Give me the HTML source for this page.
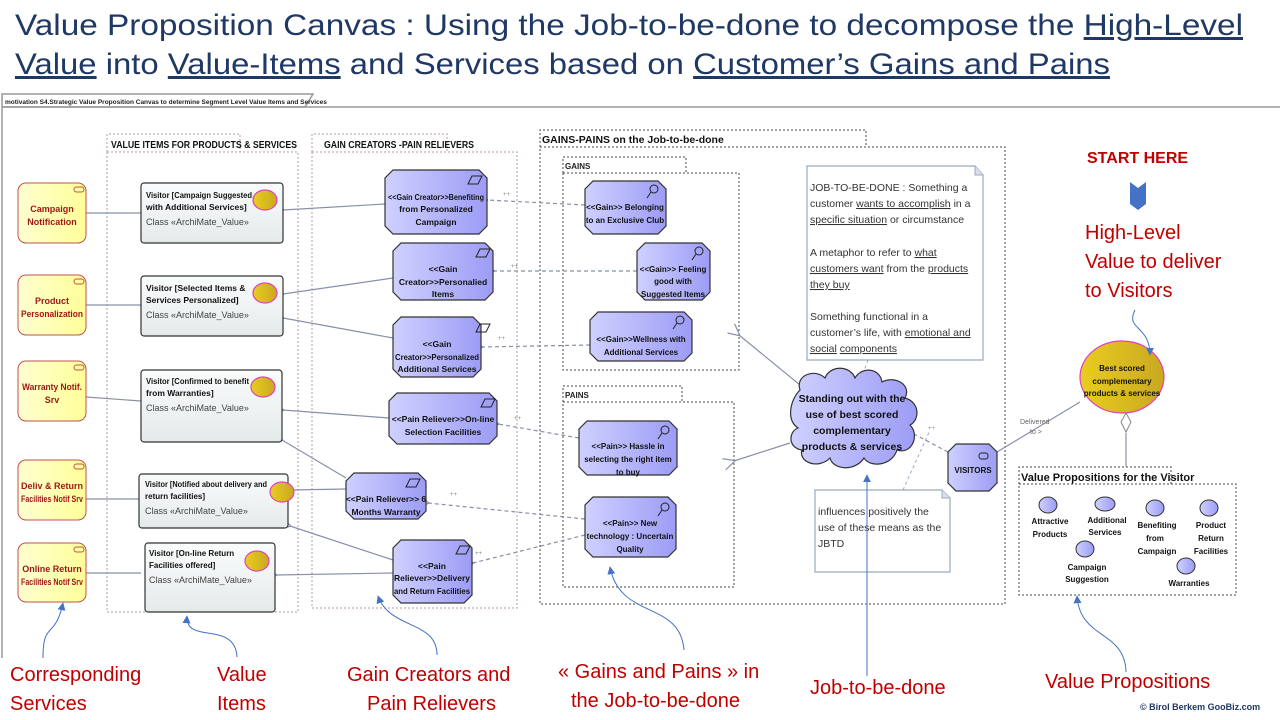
<!DOCTYPE html>
<html><head><meta charset="utf-8"><style>
html,body{margin:0;padding:0;background:#fff;}
svg{display:block;font-family:"Liberation Sans",sans-serif;}
.t{fill:#1f3864;font-size:30px;}
.red{fill:#c00000;font-size:20px;}
.sv{fill:#a01818;font-size:9px;font-weight:bold;}
.vi{fill:#111;font-size:8.5px;font-weight:bold;}
.cl{fill:#444;font-size:9px;}
.pk{fill:#111;font-size:8.5px;font-weight:bold;}
.hd{fill:#111;font-size:10.5px;font-weight:bold;}
.nt{fill:#333;font-size:10.5px;}
</style></head><body>
<svg width="1280" height="720" viewBox="0 0 1280 720" xmlns="http://www.w3.org/2000/svg">
<defs>
<linearGradient id="pg" x1="0" x2="1"><stop offset="0" stop-color="#cfd0ff"/><stop offset="1" stop-color="#9c9cf5"/></linearGradient>
<linearGradient id="yg" x1="0" x2="1"><stop offset="0" stop-color="#ffffd0"/><stop offset="1" stop-color="#ffff99"/></linearGradient>
<linearGradient id="gg" x1="0" x2="0" y1="0" y2="1"><stop offset="0" stop-color="#fafcfc"/><stop offset="1" stop-color="#e4eaea"/></linearGradient>
<linearGradient id="og" x1="0" x2="1"><stop offset="0" stop-color="#e8cd20"/><stop offset="1" stop-color="#c9a820"/></linearGradient>
<marker id="oa" viewBox="0 0 10 10" refX="1" refY="5" markerWidth="10" markerHeight="10" orient="auto-start-reverse"><path d="M10,0 L0,5 L10,10" fill="none" stroke="#8890a8" stroke-width="1"/></marker>
<marker id="ba" viewBox="0 0 10 10" refX="9" refY="5" markerWidth="8" markerHeight="8" orient="auto"><path d="M0,0 L10,5 L0,10 z" fill="#4472c4"/></marker>
</defs>

<text class="t" x="15" y="35" textLength="1228" lengthAdjust="spacingAndGlyphs">Value Proposition Canvas : Using the Job-to-be-done to decompose the <tspan text-decoration="underline">High-Level</tspan></text>
<text class="t" x="15" y="74" textLength="1095" lengthAdjust="spacingAndGlyphs"><tspan text-decoration="underline">Value</tspan> into <tspan text-decoration="underline">Value-Items</tspan> and Services based on <tspan text-decoration="underline">Customer’s Gains and Pains</tspan></text>

<path d="M2,658 L2,94 L313,94 L305,107 L2,107" fill="none" stroke="#999" stroke-width="1.5"/>
<line x1="2" y1="107" x2="1280" y2="107" stroke="#999" stroke-width="1.5"/>
<text x="5" y="104" font-size="6.5" fill="#222" font-weight="bold">motivation S4.Strategic Value Proposition Canvas to determine Segment Level Value Items and Services</text>

<g fill="none" stroke="#b89aa0" stroke-dasharray="2,2">
<path d="M107,152 L107,134 L240,134 L240,152"/><rect x="107" y="152" width="191" height="460"/>
<path d="M312,152 L312,134 L447,134 L447,152"/><rect x="312" y="152" width="205" height="456"/>
</g>
<text class="hd" x="111" y="148" textLength="186" lengthAdjust="spacingAndGlyphs">VALUE ITEMS FOR PRODUCTS &amp; SERVICES</text>
<text class="hd" x="324" y="148" textLength="150" lengthAdjust="spacingAndGlyphs">GAIN CREATORS -PAIN RELIEVERS</text>
<g fill="none" stroke="#444" stroke-dasharray="2,2">
<path d="M540,147 L540,130 L866,130 L866,147"/><rect x="540" y="147" width="465" height="457"/>
<path d="M563,173 L563,157 L686,157 L686,173"/><rect x="563" y="173" width="176" height="197"/>
<path d="M563,402 L563,386 L682,386 L682,402"/><rect x="563" y="402" width="171" height="185"/>
<path d="M1019,484 L1019,467 L1171,467 L1171,484"/><rect x="1019" y="484" width="217" height="111"/>
</g>
<text class="hd" x="542" y="143" font-size="10">GAINS-PAINS on the Job-to-be-done</text>
<text x="565" y="169" font-size="8" font-weight="bold" fill="#222">GAINS</text>
<text x="565" y="398" font-size="8" font-weight="bold" fill="#222">PAINS</text>
<text x="1021" y="481" font-size="11" font-weight="bold" fill="#111">Value Propositions for the Visitor</text>

<g stroke="#8890a8" stroke-width="1.2" fill="none">
<line x1="86" y1="213" x2="141" y2="213"/><line x1="86" y1="305" x2="141" y2="305"/><line x1="86" y1="397" x2="141" y2="401"/>
<line x1="86" y1="499" x2="139" y2="499"/><line x1="86" y1="573" x2="141" y2="573"/>
<line x1="385" y1="204" x2="283" y2="210" marker-end="url(#oa)"/>
<line x1="393" y1="278" x2="283" y2="294" marker-end="url(#oa)"/>
<line x1="393" y1="338" x2="283" y2="318" marker-end="url(#oa)"/>
<line x1="389" y1="418" x2="283" y2="410" marker-end="url(#oa)"/>
<line x1="346" y1="478" x2="282" y2="440" marker-end="url(#oa)"/>
<line x1="346" y1="489" x2="290" y2="490" marker-end="url(#oa)"/>
<line x1="393" y1="560" x2="290" y2="526" marker-end="url(#oa)"/>
<line x1="393" y1="573" x2="276" y2="575" marker-end="url(#oa)"/>
<line x1="800" y1="385" x2="739" y2="335" marker-end="url(#oa)"/>
<line x1="790" y1="443" x2="734" y2="461" marker-end="url(#oa)"/>
<line x1="997" y1="452" x2="1080" y2="402"/>
<line x1="1126" y1="433" x2="1126" y2="467"/>
</g>
<path d="M1126,413 L1131,422 L1126,432 L1121,422 z" fill="#fff" stroke="#888"/>
<text x="1020" y="424" font-size="7" fill="#666">Delivered</text><text x="1030" y="434" font-size="7" fill="#666">to &gt;</text>
<g stroke="#8890a8" stroke-width="1.2" fill="none" stroke-dasharray="4,3">
<line x1="585" y1="205" x2="487" y2="200" marker-end="url(#oa)"/>
<line x1="637" y1="271" x2="494" y2="271" marker-end="url(#oa)"/>
<line x1="590" y1="345" x2="482" y2="347" marker-end="url(#oa)"/>
<line x1="579" y1="438" x2="498" y2="424" marker-end="url(#oa)"/>
<line x1="585" y1="519" x2="428" y2="503" marker-end="url(#oa)"/>
<line x1="585" y1="535" x2="473" y2="563" marker-end="url(#oa)"/>
<line x1="948" y1="452" x2="914" y2="434" marker-end="url(#oa)"/>
</g>
<g stroke="#9ab" stroke-width="1" stroke-dasharray="3,3"><line x1="868" y1="360" x2="862" y2="376"/><line x1="903" y1="490" x2="930" y2="430"/></g>
<g font-size="6" fill="#888"><text x="503" y="196">++</text><text x="511" y="268">++</text><text x="498" y="340">++</text><text x="514" y="420">++</text><text x="450" y="496">++</text><text x="475" y="555">++</text><text x="928" y="430">++</text></g>

<g stroke="#c0504d" fill="url(#yg)" stroke-width="1">
<rect x="18" y="183" width="68" height="60" rx="8"/><rect x="18" y="275" width="68" height="60" rx="8"/>
<rect x="18" y="361" width="68" height="60" rx="8"/><rect x="18" y="460" width="68" height="60" rx="8"/><rect x="18" y="543" width="68" height="59" rx="8"/>
</g>
<g stroke="#c0504d" fill="none"><rect x="74" y="187" width="10" height="5" rx="2.5"/><rect x="74" y="279" width="10" height="5" rx="2.5"/><rect x="74" y="365" width="10" height="5" rx="2.5"/><rect x="74" y="464" width="10" height="5" rx="2.5"/><rect x="74" y="547" width="10" height="5" rx="2.5"/></g>
<g class="sv" text-anchor="middle">
<text x="52" y="212">Campaign</text><text x="52" y="225">Notification</text>
<text x="52" y="304">Product</text><text x="52" y="317" textLength="62" lengthAdjust="spacingAndGlyphs">Personalization</text>
<text x="52" y="390" textLength="60" lengthAdjust="spacingAndGlyphs">Warranty Notif.</text><text x="52" y="403">Srv</text>
<text x="52" y="489">Deliv &amp; Return</text><text x="52" y="502" textLength="62" lengthAdjust="spacingAndGlyphs">Facilities Notif Srv</text>
<text x="52" y="572">Online Return</text><text x="52" y="585" textLength="62" lengthAdjust="spacingAndGlyphs">Facilities Notif Srv</text>
</g>

<g stroke="#333" fill="url(#gg)" stroke-width="1.2">
<rect x="141" y="183" width="142" height="60" rx="3"/><rect x="141" y="276" width="142" height="60" rx="3"/>
<rect x="141" y="370" width="141" height="72" rx="3"/><rect x="139" y="474" width="149" height="54" rx="3"/><rect x="145" y="543" width="130" height="69" rx="3"/>
</g>
<g fill="url(#og)" stroke="#e040c0" stroke-width="1.2">
<ellipse cx="265" cy="200" rx="12" ry="10"/><ellipse cx="265" cy="293" rx="12" ry="10"/><ellipse cx="263" cy="387" rx="12" ry="10"/><ellipse cx="282" cy="492" rx="12" ry="10"/><ellipse cx="257" cy="561" rx="12" ry="10"/>
</g>
<g class="vi">
<text x="146" y="198" textLength="106" lengthAdjust="spacingAndGlyphs">Visitor [Campaign Suggested</text><text x="146" y="210">with Additional Services]</text>
<text x="146" y="291">Visitor [Selected Items &amp;</text><text x="146" y="303">Services Personalized]</text>
<text x="146" y="384" textLength="103" lengthAdjust="spacingAndGlyphs">Visitor [Confirmed to benefit</text><text x="146" y="396">from Warranties]</text>
<text x="145" y="487" font-size="8" textLength="122" lengthAdjust="spacingAndGlyphs">Visitor [Notified about delivery and</text><text x="145" y="499" font-size="8">return facilities]</text>
<text x="149" y="556" font-size="8">Visitor [On-line Return</text><text x="149" y="568" font-size="8">Facilities offered]</text>
</g>
<g class="cl"><text x="146" y="225">Class «ArchiMate_Value»</text><text x="146" y="318">Class «ArchiMate_Value»</text><text x="146" y="411">Class «ArchiMate_Value»</text><text x="145" y="514">Class «ArchiMate_Value»</text><text x="149" y="583">Class «ArchiMate_Value»</text></g>

<g fill="url(#pg)" stroke="#333" stroke-width="1.2">
<path d="M393,170 L479,170 L487,178 L487,226 L479,234 L393,234 L385,226 L385,178z"/>
<path d="M401,243 L485,243 L493,251 L493,292 L485,300 L401,300 L393,292 L393,251z"/>
<path d="M401,317 L473,317 L481,325 L481,369 L473,377 L401,377 L393,369 L393,325z"/>
<path d="M397,393 L489,393 L497,401 L497,436 L489,444 L397,444 L389,436 L389,401z"/>
<path d="M354,473 L418,473 L426,481 L426,511 L418,519 L354,519 L346,511 L346,481z"/>
<path d="M401,540 L464,540 L472,548 L472,595 L464,603 L401,603 L393,595 L393,548z"/>
<path d="M593,181 L658,181 L666,189 L666,226 L658,234 L593,234 L585,226 L585,189z"/>
<path d="M645,243 L702,243 L710,251 L710,292 L702,300 L645,300 L637,292 L637,251z"/>
<path d="M598,312 L684,312 L692,320 L692,353 L684,361 L598,361 L590,353 L590,320z"/>
<path d="M587,421 L669,421 L677,429 L677,467 L669,475 L587,475 L579,467 L579,429z"/>
<path d="M593,497 L668,497 L676,505 L676,549 L668,557 L593,557 L585,549 L585,505z"/>
<path d="M956,444 L989,444 L997,452 L997,483 L989,491 L956,491 L948,483 L948,452z"/>
</g>
<g fill="none" stroke="#222" stroke-width="1">
<path d="M472,176 L482,176 L478,184 L468,184z"/><path d="M480,249 L490,249 L486,257 L476,257z"/><path d="M480,324 L490,324 L486,332 L476,332z"/>
<path d="M485,399 L495,399 L491,407 L481,407z"/><path d="M410,479 L420,479 L416,487 L406,487z"/><path d="M460,546 L470,546 L466,554 L456,554z"/>
<circle cx="654" cy="189" r="4"/><line x1="651" y1="192" x2="647" y2="198"/>
<circle cx="699" cy="251" r="4"/><line x1="696" y1="254" x2="692" y2="260"/>
<circle cx="680" cy="320" r="4"/><line x1="677" y1="323" x2="673" y2="329"/>
<circle cx="665" cy="430" r="4"/><line x1="662" y1="433" x2="658" y2="439"/>
<circle cx="665" cy="507" r="4"/><line x1="662" y1="510" x2="658" y2="516"/>
<rect x="979" y="453" width="9" height="6" rx="2.5"/>
</g>
<g class="pk" text-anchor="middle">
<text x="436" y="200" font-size="8" textLength="96" lengthAdjust="spacingAndGlyphs">&lt;&lt;Gain Creator&gt;&gt;Benefiting</text><text x="436" y="212">from Personalized</text><text x="436" y="225">Campaign</text>
<text x="443" y="272">&lt;&lt;Gain</text><text x="443" y="285">Creator&gt;&gt;Personalied</text><text x="443" y="297">Items</text>
<text x="437" y="347">&lt;&lt;Gain</text><text x="437" y="360" textLength="84" lengthAdjust="spacingAndGlyphs">Creator&gt;&gt;Personalized</text><text x="437" y="372">Additional Services</text>
<text x="443" y="422">&lt;&lt;Pain Reliever&gt;&gt;On-line</text><text x="443" y="435">Selection Facilities</text>
<text x="386" y="502">&lt;&lt;Pain Reliever&gt;&gt; 6</text><text x="386" y="515">Months Warranty</text>
<text x="432" y="569">&lt;&lt;Pain</text><text x="432" y="581">Reliever&gt;&gt;Delivery</text><text x="432" y="594" textLength="76" lengthAdjust="spacingAndGlyphs">and Return Facilities</text>
<text x="625" y="210" font-size="8">&lt;&lt;Gain&gt;&gt; Belonging</text><text x="625" y="223" font-size="8">to an Exclusive Club</text>
<text x="673" y="272" font-size="8">&lt;&lt;Gain&gt;&gt; Feeling</text><text x="673" y="284" font-size="8">good with</text><text x="673" y="297" font-size="8">Suggested Items</text>
<text x="641" y="342" font-size="8">&lt;&lt;Gain&gt;&gt;Wellness with</text><text x="641" y="355" font-size="8">Additional Services</text>
<text x="628" y="449" font-size="8">&lt;&lt;Pain&gt;&gt; Hassle in</text><text x="628" y="462" font-size="8">selecting the right item</text><text x="628" y="475" font-size="8">to buy</text>
<text x="630" y="526" font-size="8">&lt;&lt;Pain&gt;&gt; New</text><text x="630" y="539" font-size="8">technology : Uncertain</text><text x="630" y="552" font-size="8">Quality</text>
<text x="973" y="473" font-size="8">VISITORS</text>
</g>

<path d="M800,390 C795,375 815,368 825,378 C830,365 850,365 855,378 C862,366 880,368 882,382 C895,375 912,385 905,398 C920,402 920,420 910,425 C920,435 912,455 897,450 C892,466 870,468 864,458 C855,472 833,470 830,458 C818,470 798,462 802,450 C788,448 788,432 798,428 C786,420 790,400 800,390z" fill="url(#pg)" stroke="#333" stroke-width="1.2"/>
<g class="pk" text-anchor="middle"><text x="852" y="402" font-size="10.5">Standing out with the</text><text x="852" y="418" font-size="10.5">use of best scored</text><text x="852" y="434" font-size="10.5">complementary</text><text x="852" y="450" font-size="10.5">products &amp; services</text></g>

<path d="M807,166 L975,166 L983,175 L983,360 L807,360z" fill="#fff" stroke="#9ab" stroke-width="1.2"/><path d="M975,166 L975,175 L983,175" fill="#dde" stroke="#9ab"/>
<g class="nt">
<text x="810" y="191">JOB-TO-BE-DONE : Something a</text>
<text x="810" y="207">customer <tspan text-decoration="underline">wants to accomplish</tspan> in a</text>
<text x="810" y="223"><tspan text-decoration="underline">specific situation</tspan> or circumstance</text>
<text x="810" y="256">A metaphor to refer to <tspan text-decoration="underline">what</tspan></text>
<text x="810" y="272"><tspan text-decoration="underline">customers want</tspan> from the <tspan text-decoration="underline">products</tspan></text>
<text x="810" y="288"><tspan text-decoration="underline">they buy</tspan></text>
<text x="810" y="320">Something functional in a</text>
<text x="810" y="336">customer’s life, with <tspan text-decoration="underline">emotional and</tspan></text>
<text x="810" y="352"><tspan text-decoration="underline">social</tspan> <tspan text-decoration="underline">components</tspan></text>
</g>
<path d="M815,490 L942,490 L950,498 L950,572 L815,572z" fill="#fff" stroke="#9ab" stroke-width="1.2"/><path d="M942,490 L942,498 L950,498" fill="#dde" stroke="#9ab"/>
<g class="nt"><text x="818" y="515">influences positively  the</text><text x="818" y="531">use of these means as the</text><text x="818" y="547">JBTD</text></g>

<ellipse cx="1122" cy="377" rx="42" ry="36" fill="url(#og)" stroke="#e040c0" stroke-width="1.2"/>
<g class="pk" text-anchor="middle"><text x="1122" y="371" font-size="8">Best scored</text><text x="1122" y="384" font-size="8">complementary</text><text x="1122" y="396" font-size="8">products &amp; services</text></g>

<g fill="url(#pg)" stroke="#333">
<ellipse cx="1048" cy="505" rx="9" ry="8"/><ellipse cx="1105" cy="504" rx="10" ry="7"/><ellipse cx="1155" cy="508" rx="9" ry="8"/><ellipse cx="1209" cy="508" rx="9" ry="8"/>
<ellipse cx="1085" cy="549" rx="9" ry="8"/><ellipse cx="1186" cy="566" rx="9" ry="8"/>
</g>
<g class="pk" text-anchor="middle">
<text x="1050" y="524" font-size="8">Attractive</text><text x="1050" y="537" font-size="8">Products</text>
<text x="1107" y="523" font-size="8">Additional</text><text x="1105" y="535" font-size="8">Services</text>
<text x="1157" y="528" font-size="8">Benefiting</text><text x="1155" y="541" font-size="8">from</text><text x="1157" y="554" font-size="8">Campaign</text>
<text x="1211" y="528" font-size="8">Product</text><text x="1211" y="541" font-size="8">Return</text><text x="1211" y="554" font-size="8">Facilities</text>
<text x="1087" y="570" font-size="8">Campaign</text><text x="1087" y="582" font-size="8">Suggestion</text>
<text x="1189" y="586" font-size="8">Warranties</text>
</g>

<text x="1087" y="163" font-size="16" font-weight="bold" fill="#c00000">START HERE</text>
<path d="M1130,182 L1138,188 L1146,182 L1146,204 L1138,210 L1130,204z" fill="#4472c4"/>
<g class="red">
<text x="1085" y="239">High-Level</text><text x="1085" y="268">Value to deliver</text><text x="1085" y="297">to Visitors</text>
<text x="10" y="681">Corresponding</text><text x="10" y="710">Services</text>
<text x="217" y="681">Value</text><text x="217" y="710">Items</text>
<text x="347" y="681">Gain Creators and</text><text x="367" y="710">Pain Relievers</text>
<text x="558" y="678">« Gains and Pains » in</text><text x="571" y="707">the Job-to-be-done</text>
<text x="810" y="694">Job-to-be-done</text>
<text x="1045" y="688">Value Propositions</text>
</g>
<text x="1140" y="710" font-size="9" font-weight="bold" fill="#1f3864">© Birol Berkem GooBiz.com</text>
<g fill="none" stroke="#4472c4" stroke-width="1">
<path d="M43,658 C43,620 55,640 63,603" marker-end="url(#ba)"/>
<path d="M237,657 C235,620 185,645 187,616" marker-end="url(#ba)"/>
<path d="M437,655 C437,620 390,630 378,596" marker-end="url(#ba)"/>
<path d="M684,650 C680,600 620,620 610,567" marker-end="url(#ba)"/>
<path d="M867,676 L867,475" marker-end="url(#ba)"/>
<path d="M1126,672 C1125,630 1080,640 1077,596" marker-end="url(#ba)"/>
<path d="M1135,310 C1125,330 1150,325 1150,355" marker-end="url(#ba)"/>
</g>
</svg>
</body></html>
